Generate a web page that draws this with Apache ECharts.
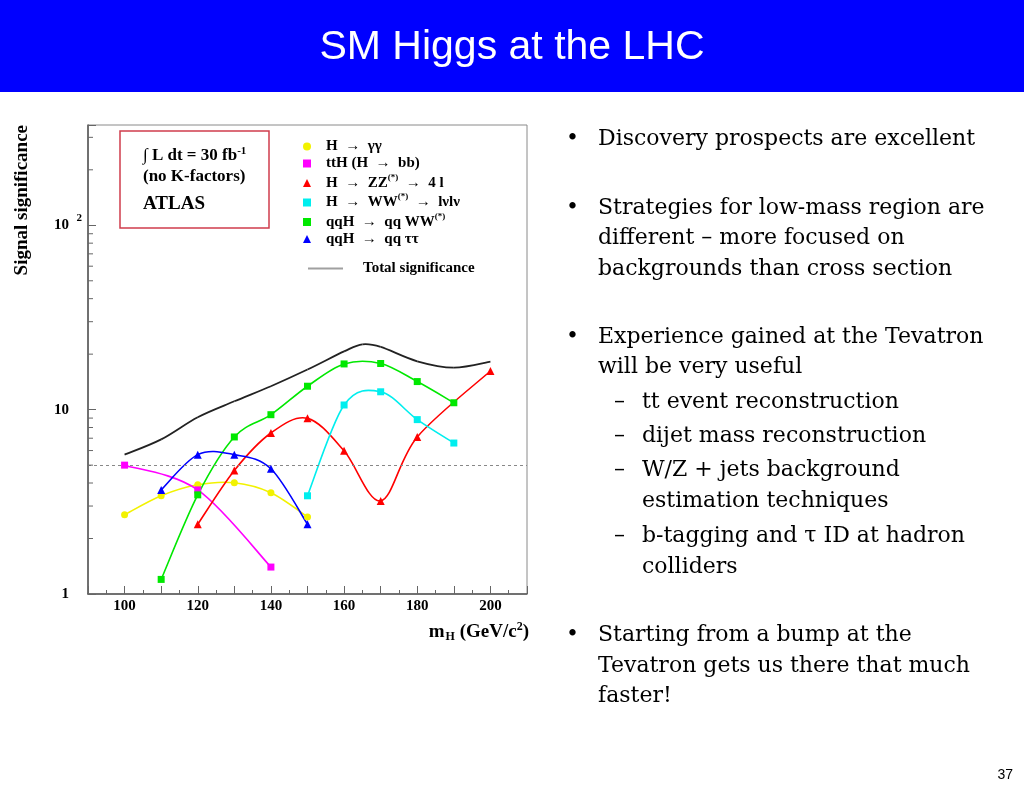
<!DOCTYPE html>
<html><head><meta charset="utf-8">
<script src="https://cdn.jsdelivr.net/npm/echarts@6/dist/echarts.min.js"></script>
<style>html,body{margin:0;padding:0;background:#fff}#c{width:1024px;height:791px}</style>
</head><body><div id="c"></div>
<script>
// ---- data ----
const seriesNames = ['H → γγ', 'ttH (H → bb)', 'H → ZZ(*) → 4 l', 'H → WW(*) → lνlν', 'qqH → qq WW(*)', 'qqH → qq ττ'];
const totalName = 'Total significance';

const massYY   = [100, 110, 120, 130, 140, 150];
const sigYY    = [2.69, 3.41, 3.91, 4.01, 3.54, 2.62];
const massTTH  = [100, 120, 140];
const sigTTH   = [5.0, 3.67, 1.40];
const massZZ   = [120, 130, 140, 150, 160, 170, 180, 200];
const sigZZ    = [2.39, 4.68, 7.47, 8.97, 5.98, 3.20, 7.11, 16.2];
const massWW   = [150, 160, 170, 180, 190];
const sigWW    = [3.41, 10.6, 12.5, 8.83, 6.59];
const massQQWW = [110, 120, 130, 140, 150, 160, 170, 180, 190];
const sigQQWW  = [1.20, 3.45, 7.11, 9.39, 13.4, 17.7, 17.8, 14.2, 10.9];
const massQQTT = [110, 120, 130, 140, 150];
const sigQQTT  = [3.67, 5.70, 5.70, 4.78, 2.39];
const massTotal = [100, 110, 120, 130, 140, 150, 160, 165, 170, 180, 190, 200];
const sigTotal  = [5.7, 6.9, 9.1, 11.1, 13.4, 16.5, 20.7, 22.6, 21.9, 18.3, 16.9, 18.2];

const discoveryLevel = 5;
const xTickLabels = [100, 120, 140, 160, 180, 200];
const yTickValues = [1, 10, 100];
const yMinorTicks = [2, 3, 4, 5, 6, 7, 8, 9, 20, 30, 40, 50, 60, 70, 80, 90, 200, 300];

// ---- helpers ----
const zip = (xs, ys) => xs.map((x, i) => [x, ys[i]]);
const serif = 'Liberation Serif';
const colors = ['#f2f200', '#ff00ff', '#ff0000', '#00eeee', '#00e800', '#0000ff'];
const symbols = ['circle', 'rect', 'triangle', 'rect', 'rect', 'triangle'];
const symbolSizes = [7, 7, 8, 7, 7, 8];
const dataSets = [zip(massYY, sigYY), zip(massTTH, sigTTH), zip(massZZ, sigZZ), zip(massWW, sigWW), zip(massQQWW, sigQQWW), zip(massQQTT, sigQQTT)];

// smooth curve through the points, drawn via the chart's own coordinate system
function curveSeries(points, color, width, name) {
  return {
    type: 'custom', name: name, silent: true, z: 4, clip: true,
    data: points, encode: {x: 0, y: 1},
    itemStyle: {color: color},
    renderItem: (params, api) => {
      const i = params.dataIndex, n = points.length;
      if (i >= n - 1) return null;
      const P = k => api.coord(points[Math.max(0, Math.min(n - 1, k))]);
      const p0 = P(i - 1), p1 = P(i), p2 = P(i + 1), p3 = P(i + 2);
      return {
        type: 'bezierCurve',
        shape: {
          x1: p1[0], y1: p1[1], x2: p2[0], y2: p2[1],
          cpx1: p1[0] + (p2[0] - p0[0]) / 6, cpy1: p1[1] + (p2[1] - p0[1]) / 6,
          cpx2: p2[0] - (p3[0] - p1[0]) / 6, cpy2: p2[1] - (p3[1] - p1[1]) / 6
        },
        style: {stroke: color, lineWidth: width, fill: null}
      };
    }
  };
}

const chart = echarts.init(document.getElementById('c'), null, {renderer: 'canvas'});

const series = [];
seriesNames.forEach((n, i) => {
  series.push(curveSeries(dataSets[i], colors[i], 1.6, undefined));
  series.push({
    name: n, type: 'scatter', data: dataSets[i], z: 5,
    symbol: symbols[i], symbolSize: symbolSizes[i],
    itemStyle: {color: colors[i], opacity: 1}
  });
});
series.push(curveSeries(zip(massTotal, sigTotal), '#222', 1.8, totalName));
series[1].markLine = {silent: true, symbol: ['none', 'none'], label: {show: false},
  lineStyle: {type: [3, 3], color: '#888', width: 1},
  data: [{yAxis: discoveryLevel}]};
series.push({
  type: 'custom', silent: true, z: 6, clip: false,
  data: yMinorTicks.map(v => [90, v]),
  encode: {x: 0, y: 1},
  renderItem: (params, api) => {
    const p = api.coord([api.value(0), api.value(1)]);
    return {type: 'line', shape: {x1: p[0], y1: p[1], x2: p[0] + 5, y2: p[1]}, style: {stroke: '#666', lineWidth: 1}};
  }
});

const legendFormatter = name => name.replace(/ → /g, '  →  ').replace(/\(\*\)/g, '{sup|(*)}');
const legendRich = {sup: {fontFamily: serif, fontWeight: 'bold', fontSize: 9, color: '#000', padding: [0, 0, 11, 0]}};

const rightLines = [
  ['•', 'Discovery prospects are excellent', 139, 0],
  ['•', 'Strategies for low-mass region are', 208, 0],
  ['', 'different – more focused on', 238, 0],
  ['', 'backgrounds than cross section', 269, 0],
  ['•', 'Experience gained at the Tevatron', 337, 0],
  ['', 'will be very useful', 367, 0],
  ['–', 'tt event reconstruction', 402, 1],
  ['–', 'dijet mass reconstruction', 436, 1],
  ['–', 'W/Z + jets background', 470, 1],
  ['', 'estimation techniques', 501, 1],
  ['–', 'b-tagging and τ ID at hadron', 536, 1],
  ['', 'colliders', 567, 1],
  ['•', 'Starting from a bump at the', 635, 0],
  ['', 'Tevatron gets us there that much', 666, 0],
  ['', 'faster!', 696, 0]
];
const graphics = [
  {type: 'rect', left: 0, top: 0, shape: {width: 1024, height: 92}, style: {fill: '#0000ff'}, z: 0},
  {type: 'text', x: 512, y: 48, style: {text: 'SM Higgs at the LHC', font: '41px "Liberation Sans"', fill: '#fff', align: 'center', verticalAlign: 'middle'}},
  {type: 'text', x: 1013, y: 775, style: {text: '37', font: '14px "Liberation Sans"', fill: '#000', align: 'right', verticalAlign: 'middle'}},
  // info box
  {type: 'rect', shape: {x: 120, y: 131, width: 149, height: 97}, style: {fill: 'none', stroke: '#d03c4c', lineWidth: 1.5}, z: 10},
  {type: 'text', x: 143, y: 156, z: 10, style: {text: '{b|∫ L dt = 30 fb}{s|-1}', verticalAlign: 'middle',
     rich: {b: {fontFamily: serif, fontWeight: 'bold', fontSize: 17, fill: '#000'}, s: {fontFamily: serif, fontWeight: 'bold', fontSize: 11, padding: [0, 0, 10, 0]}}}},
  {type: 'text', x: 143, y: 177, z: 10, style: {text: '(no K-factors)', font: 'bold 17px "Liberation Serif"', fill: '#000', verticalAlign: 'middle'}},
  {type: 'text', x: 143, y: 204, z: 10, style: {text: 'ATLAS', font: 'bold 19px "Liberation Serif"', fill: '#000', verticalAlign: 'middle'}},
  // axis titles
  {type: 'text', x: 22, y: 125, rotation: Math.PI / 2, style: {text: 'Signal significance', font: 'bold 19px "Liberation Serif"', fill: '#000', align: 'right', verticalAlign: 'middle'}},
  {type: 'text', x: 529, y: 632, style: {text: 'm{sub|H} (GeV/c{sup|2})', align: 'right', verticalAlign: 'middle',
     rich: {sub: {fontFamily: serif, fontWeight: 'bold', fontSize: 12, padding: [10, 0, 0, 1]}, sup: {fontFamily: serif, fontWeight: 'bold', fontSize: 12, padding: [0, 0, 10, 0]}},
     font: 'bold 19px "Liberation Serif"', fill: '#000'}}
];
rightLines.forEach(([mark, txt, y, lvl]) => {
  const markX = lvl === 0 ? 566 : 614;
  const textX = lvl === 0 ? 598 : 642;
  if (mark) graphics.push({type: 'text', x: markX, y: y, style: {text: mark, font: '22px "DejaVu Serif"', fill: '#000', verticalAlign: 'middle'}});
  graphics.push({type: 'text', x: textX, y: y, style: {text: txt, font: '22px "DejaVu Serif"', fill: '#000', verticalAlign: 'middle'}});
});

chart.setOption({
  animation: false,
  backgroundColor: '#fff',
  grid: {left: 88, top: 125, width: 439, height: 469, show: true, borderColor: '#8a8a8a', borderWidth: 1, containLabel: false},
  xAxis: {
    type: 'value', min: 90, max: 210, interval: 10,
    axisLine: {show: true, lineStyle: {color: '#555', width: 1.5}},
    axisTick: {show: true, inside: true, length: 8, lineStyle: {color: '#666'}},
    minorTick: {show: true, splitNumber: 2, length: 4, lineStyle: {color: '#666'}},
    splitLine: {show: false},
    axisLabel: {margin: 5, fontFamily: serif, fontWeight: 'bold', fontSize: 15, color: '#000',
      formatter: v => xTickLabels.indexOf(v) >= 0 ? String(v) : ''}
  },
  yAxis: {
    type: 'log', logBase: 10, min: 1, max: 350,
    axisLine: {show: true, lineStyle: {color: '#555', width: 1.5}},
    axisTick: {show: true, inside: true, length: 8, lineStyle: {color: '#666'}},
    splitLine: {show: false},
    axisLabel: {margin: 6,
      formatter: v => {
        const l = Math.log10(v), e = Math.round(l);
        if (Math.abs(l - e) > 1e-6 || yTickValues.indexOf(Math.pow(10, e)) < 0) return '';
        if (e === 0) return '{b|1}{g| }';
        if (e === 1) return '{b|10}{g| }';
        return '{b|10}{s|' + e + '}';
      },
      rich: {
        b: {fontFamily: serif, fontWeight: 'bold', fontSize: 15, color: '#000'},
        g: {width: 13, fontSize: 10},
        s: {fontFamily: serif, fontWeight: 'bold', fontSize: 11, color: '#000', width: 13, align: 'right', padding: [0, 0, 14, 0]}
      }
    }
  },
  legend: [
    {
      orient: 'vertical', left: 303, top: 139, padding: 0, itemWidth: 8, itemHeight: 8, itemGap: 2,
      data: seriesNames.map((n, i) => ({name: n, icon: symbols[i]})),
      formatter: legendFormatter,
      textStyle: {fontFamily: serif, fontWeight: 'bold', fontSize: 15, color: '#000', padding: [0, 0, 0, 10], rich: legendRich},
      selectedMode: false
    },
    {
      orient: 'vertical', left: 308, top: 261, padding: 0, itemWidth: 35, itemHeight: 2,
      data: [{name: totalName, icon: 'rect', itemStyle: {color: '#a0a0a0'}}],
      textStyle: {fontFamily: serif, fontWeight: 'bold', fontSize: 15, color: '#000', padding: [0, 0, 0, 15]},
      selectedMode: false
    }
  ],
  graphic: graphics,
  series: series
});
</script></body></html>
